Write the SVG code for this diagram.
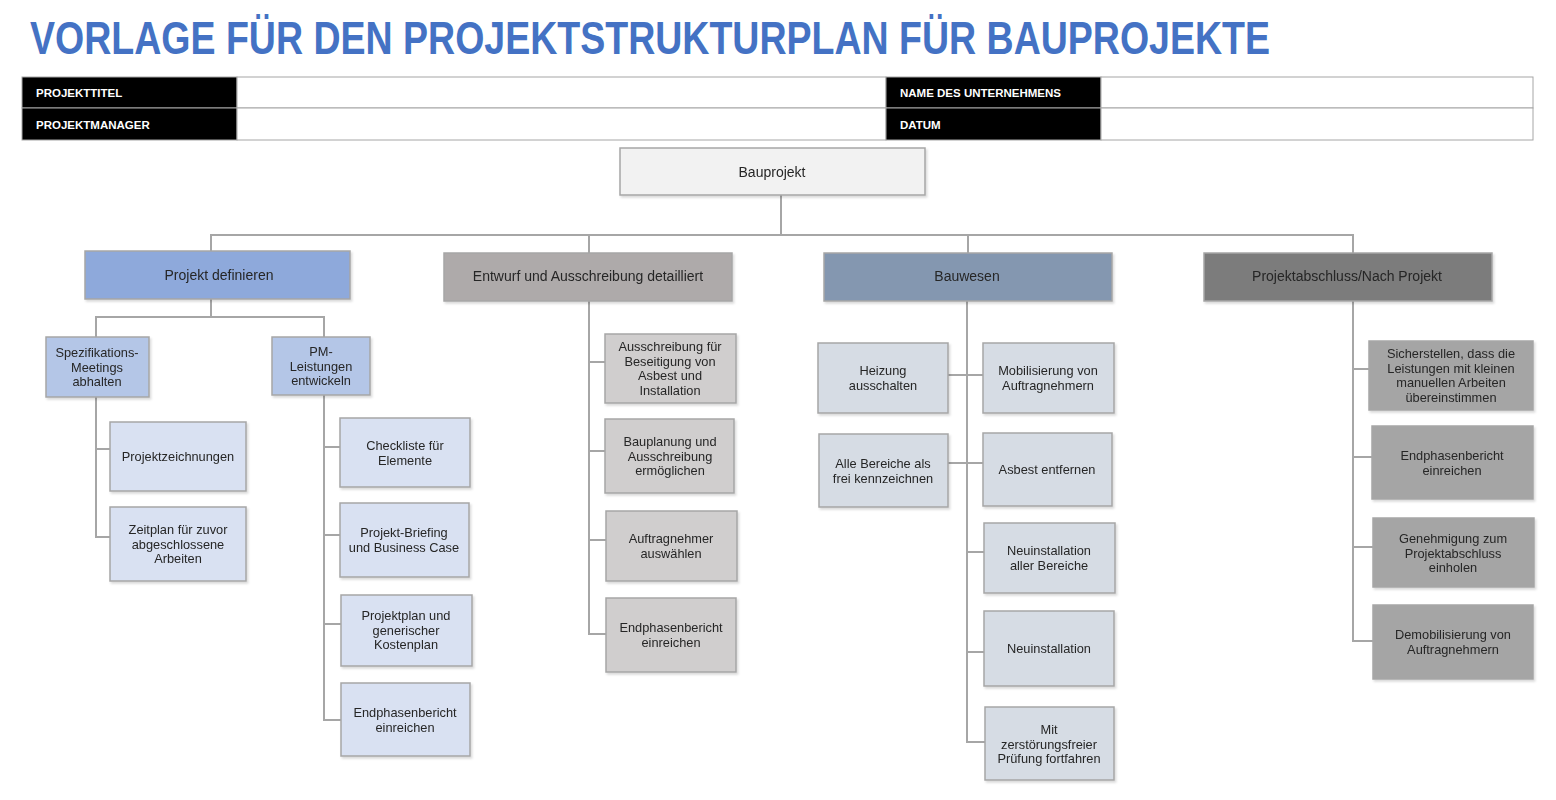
<svg xmlns="http://www.w3.org/2000/svg" width="1556" height="800" viewBox="0 0 1556 800">
<style>
.title{font-family:"Liberation Sans",Arial,sans-serif;font-weight:bold;font-size:46px;fill:#4472C4}
.hl{font-family:"Liberation Sans",Arial,sans-serif;font-weight:bold;font-size:11.5px;fill:#FFFFFF}
.hc{fill:#FFFFFF;stroke:#A6A6A6;stroke-width:1}
.hb{fill:#000000;stroke:#A6A6A6;stroke-width:1}
.box{stroke:#A6A6A6;stroke-width:1.5}
.t{font-family:"Liberation Sans",Arial,sans-serif;font-size:12.8px;fill:#262626;text-anchor:middle}
.t2{font-family:"Liberation Sans",Arial,sans-serif;font-size:14px;fill:#262626;text-anchor:middle}
.conn{stroke:#A6A6A6;stroke-width:2;fill:none}
.root{fill:#F2F2F2}
.l1a{fill:#8EA9DB}.l1b{fill:#AEAAAA}.l1c{fill:#8497B0}.l1d{fill:#7B7B7B}
.l2a{fill:#B4C6E7}.l3a{fill:#D9E1F2}.l2b{fill:#D0CECE}.l2c{fill:#D6DCE4}.l2d{fill:#A5A5A5}
</style>
<defs>
<filter id="sh" x="-10%" y="-10%" width="130%" height="130%">
<feDropShadow dx="1.5" dy="2" stdDeviation="1" flood-color="#000000" flood-opacity="0.15"/>
</filter>
</defs>
<rect x="0" y="0" width="1556" height="800" fill="#FFFFFF"/>
<text class="title" x="30" y="54" textLength="1240" lengthAdjust="spacingAndGlyphs">VORLAGE FÜR DEN PROJEKTSTRUKTURPLAN FÜR BAUPROJEKTE</text>

<g id="header">
<rect class="hb" x="22" y="77" width="215" height="31"/>
<rect class="hc" x="237" y="77" width="649" height="31"/>
<rect class="hb" x="886" y="77" width="215" height="31"/>
<rect class="hc" x="1101" y="77" width="432" height="31"/>
<rect class="hb" x="22" y="108" width="215" height="32"/>
<rect class="hc" x="237" y="108" width="649" height="32"/>
<rect class="hb" x="886" y="108" width="215" height="32"/>
<rect class="hc" x="1101" y="108" width="432" height="32"/>
<text class="hl" x="36" y="97">PROJEKTTITEL</text>
<text class="hl" x="36" y="129">PROJEKTMANAGER</text>
<text class="hl" x="900" y="97">NAME DES UNTERNEHMENS</text>
<text class="hl" x="900" y="129">DATUM</text>
</g>

<g id="connectors">
<polyline class="conn" points="781,195 781,235"/>
<polyline class="conn" points="211,251 211,235 1353,235 1353,253"/>
<polyline class="conn" points="589,235 589,253"/>
<polyline class="conn" points="968,235 968,253"/>
<polyline class="conn" points="211,299 211,317"/>
<polyline class="conn" points="96,337 96,317 324,317 324,337"/>
<polyline class="conn" points="96,397 96,537 110,537"/>
<polyline class="conn" points="96,449 110,449"/>
<polyline class="conn" points="324,395 324,720 341,720"/>
<polyline class="conn" points="324,447 340,447"/>
<polyline class="conn" points="324,535 340,535"/>
<polyline class="conn" points="324,624 341,624"/>
<polyline class="conn" points="589,301 589,634 606,634"/>
<polyline class="conn" points="589,362 605,362"/>
<polyline class="conn" points="589,451 605,451"/>
<polyline class="conn" points="589,540 606,540"/>
<polyline class="conn" points="967,301 967,742 985,742"/>
<polyline class="conn" points="948,375 983,375"/>
<polyline class="conn" points="948,463 983,463"/>
<polyline class="conn" points="967,552 984,552"/>
<polyline class="conn" points="967,652 984,652"/>
<polyline class="conn" points="1353,301 1353,641 1373,641"/>
<polyline class="conn" points="1353,369 1369,369"/>
<polyline class="conn" points="1353,457 1372,457"/>
<polyline class="conn" points="1353,547 1373,547"/>
</g>

<g id="n-root" filter="url(#sh)"><rect class="box root" x="620" y="148" width="305" height="47"/><text class="t2" x="772" y="177">Bauprojekt</text></g>

<g id="n-definieren" filter="url(#sh)"><rect class="box l1a" x="85" y="251" width="265" height="48"/><text class="t2" x="219" y="280">Projekt definieren</text></g>
<g id="n-entwurf" filter="url(#sh)"><rect class="box l1b" x="444" y="253" width="288" height="48"/><text class="t2" x="588" y="281">Entwurf und Ausschreibung detailliert</text></g>
<g id="n-bauwesen" filter="url(#sh)"><rect class="box l1c" x="824" y="253" width="288" height="48"/><text class="t2" x="967" y="281">Bauwesen</text></g>
<g id="n-abschluss" filter="url(#sh)"><rect class="box l1d" x="1204" y="253" width="288" height="48"/><text class="t2" x="1347" y="281">Projektabschluss/Nach Projekt</text></g>

<g id="n-spez" filter="url(#sh)"><rect class="box l2a" x="46" y="337" width="103" height="60"/><text class="t" x="97" y="357">Spezifikations-<tspan x="97" dy="14.5">Meetings</tspan><tspan x="97" dy="14.5">abhalten</tspan></text></g>
<g id="n-pm" filter="url(#sh)"><rect class="box l2a" x="272" y="337" width="98" height="58"/><text class="t" x="321" y="356">PM-<tspan x="321" dy="14.5">Leistungen</tspan><tspan x="321" dy="14.5">entwickeln</tspan></text></g>
<g id="n-zeichnungen" filter="url(#sh)"><rect class="box l3a" x="110" y="422" width="136" height="69"/><text class="t" x="178" y="461">Projektzeichnungen</text></g>
<g id="n-zeitplan" filter="url(#sh)"><rect class="box l3a" x="110" y="507" width="136" height="74"/><text class="t" x="178" y="534">Zeitplan für zuvor<tspan x="178" dy="14.5">abgeschlossene</tspan><tspan x="178" dy="14.5">Arbeiten</tspan></text></g>
<g id="n-checkliste" filter="url(#sh)"><rect class="box l3a" x="340" y="418" width="130" height="69"/><text class="t" x="405" y="450">Checkliste für<tspan x="405" dy="14.5">Elemente</tspan></text></g>
<g id="n-briefing" filter="url(#sh)"><rect class="box l3a" x="340" y="503" width="129" height="74"/><text class="t" x="404" y="537">Projekt-Briefing<tspan x="404" dy="14.5">und Business Case</tspan></text></g>
<g id="n-projektplan" filter="url(#sh)"><rect class="box l3a" x="341" y="595" width="131" height="71"/><text class="t" x="406" y="620">Projektplan und<tspan x="406" dy="14.5">generischer</tspan><tspan x="406" dy="14.5">Kostenplan</tspan></text></g>
<g id="n-endphase1" filter="url(#sh)"><rect class="box l3a" x="341" y="683" width="129" height="73"/><text class="t" x="405" y="717">Endphasenbericht<tspan x="405" dy="14.5">einreichen</tspan></text></g>

<g id="n-asbest-aus" filter="url(#sh)"><rect class="box l2b" x="605" y="334" width="131" height="69"/><text class="t" x="670" y="351">Ausschreibung für<tspan x="670" dy="14.5">Beseitigung von</tspan><tspan x="670" dy="14.5">Asbest und</tspan><tspan x="670" dy="14.5">Installation</tspan></text></g>
<g id="n-bauplanung" filter="url(#sh)"><rect class="box l2b" x="605" y="419" width="129" height="74"/><text class="t" x="670" y="446">Bauplanung und<tspan x="670" dy="14.5">Ausschreibung</tspan><tspan x="670" dy="14.5">ermöglichen</tspan></text></g>
<g id="n-auftragnehmer" filter="url(#sh)"><rect class="box l2b" x="606" y="511" width="131" height="70"/><text class="t" x="671" y="543">Auftragnehmer<tspan x="671" dy="14.5">auswählen</tspan></text></g>
<g id="n-endphase2" filter="url(#sh)"><rect class="box l2b" x="606" y="598" width="130" height="74"/><text class="t" x="671" y="632">Endphasenbericht<tspan x="671" dy="14.5">einreichen</tspan></text></g>

<g id="n-heizung" filter="url(#sh)"><rect class="box l2c" x="818" y="343" width="130" height="70"/><text class="t" x="883" y="375">Heizung<tspan x="883" dy="14.5">ausschalten</tspan></text></g>
<g id="n-bereiche" filter="url(#sh)"><rect class="box l2c" x="819" y="434" width="129" height="73"/><text class="t" x="883" y="468">Alle Bereiche als<tspan x="883" dy="14.5">frei kennzeichnen</tspan></text></g>
<g id="n-mobilisierung" filter="url(#sh)"><rect class="box l2c" x="983" y="343" width="131" height="70"/><text class="t" x="1048" y="375">Mobilisierung von<tspan x="1048" dy="14.5">Auftragnehmern</tspan></text></g>
<g id="n-asbest" filter="url(#sh)"><rect class="box l2c" x="983" y="433" width="129" height="73"/><text class="t" x="1047" y="474">Asbest entfernen</text></g>
<g id="n-neuinst-alle" filter="url(#sh)"><rect class="box l2c" x="984" y="523" width="131" height="70"/><text class="t" x="1049" y="555">Neuinstallation<tspan x="1049" dy="14.5">aller Bereiche</tspan></text></g>
<g id="n-neuinst" filter="url(#sh)"><rect class="box l2c" x="984" y="611" width="130" height="75"/><text class="t" x="1049" y="653">Neuinstallation</text></g>
<g id="n-pruefung" filter="url(#sh)"><rect class="box l2c" x="985" y="707" width="129" height="73"/><text class="t" x="1049" y="734">Mit<tspan x="1049" dy="14.5">zerstörungsfreier</tspan><tspan x="1049" dy="14.5">Prüfung fortfahren</tspan></text></g>

<g id="n-sicherstellen" filter="url(#sh)"><rect class="box l2d" x="1369" y="341" width="164" height="69"/><text class="t" x="1451" y="358">Sicherstellen, dass die<tspan x="1451" dy="14.5">Leistungen mit kleinen</tspan><tspan x="1451" dy="14.5">manuellen Arbeiten</tspan><tspan x="1451" dy="14.5">übereinstimmen</tspan></text></g>
<g id="n-endphase3" filter="url(#sh)"><rect class="box l2d" x="1372" y="426" width="161" height="73"/><text class="t" x="1452" y="460">Endphasenbericht<tspan x="1452" dy="14.5">einreichen</tspan></text></g>
<g id="n-genehmigung" filter="url(#sh)"><rect class="box l2d" x="1373" y="518" width="161" height="69"/><text class="t" x="1453" y="543">Genehmigung zum<tspan x="1453" dy="14.5">Projektabschluss</tspan><tspan x="1453" dy="14.5">einholen</tspan></text></g>
<g id="n-demob" filter="url(#sh)"><rect class="box l2d" x="1373" y="605" width="160" height="74"/><text class="t" x="1453" y="639">Demobilisierung von<tspan x="1453" dy="14.5">Auftragnehmern</tspan></text></g>
</svg>
